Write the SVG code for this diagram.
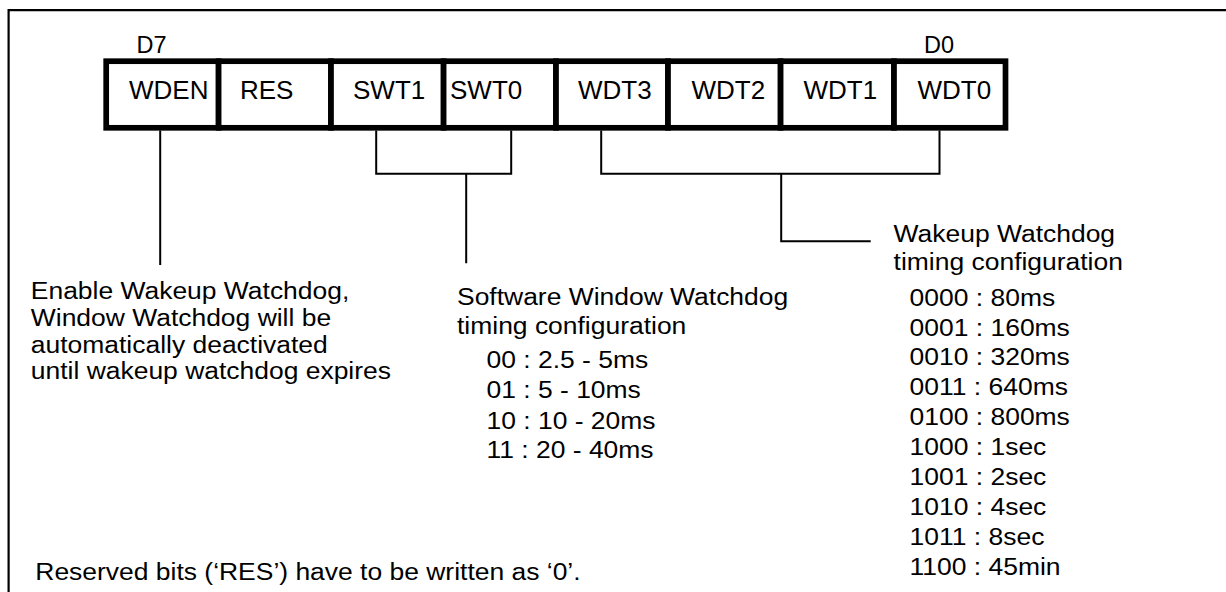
<svg xmlns="http://www.w3.org/2000/svg" width="1226" height="592" viewBox="0 0 1226 592">
<style>
  text { font-family: "Liberation Sans", Arial, Helvetica, sans-serif; fill: #000; }
  .cell { fill: #fff; stroke: #000; stroke-width: 5.7; }
  .lbl { font-size: 26px; }
  .bit { font-size: 23.5px; }
  .body { font-size: 24.5px; }
  .conn { fill: none; stroke: #000; stroke-width: 2; }
  .frame { fill: none; stroke: #000; stroke-width: 2.2; }
</style>
<rect width="1226" height="592" fill="#fff"/>
<path class="frame" d="M8.6 592 V10.2 H1226"/>

<g id="register">
  <text class="bit" x="136.5" y="53.3">D7</text>
  <text class="bit" x="924" y="53.3">D0</text>
  <g id="cell-WDEN"><rect class="cell" x="106.2" y="61.2" width="112.4" height="66.6"/><text class="lbl" x="129" y="99.3">WDEN</text></g>
  <g id="cell-RES"><rect class="cell" x="218.6" y="61.2" width="112.4" height="66.6"/><text class="lbl" x="240" y="99.3">RES</text></g>
  <g id="cell-SWT1"><rect class="cell" x="331" y="61.2" width="112.6" height="66.6"/><text class="lbl" x="353" y="99.3">SWT1</text></g>
  <g id="cell-SWT0"><rect class="cell" x="443.6" y="61.2" width="112.4" height="66.6"/><text class="lbl" x="450" y="99.3">SWT0</text></g>
  <g id="cell-WDT3"><rect class="cell" x="556" y="61.2" width="112" height="66.6"/><text class="lbl" x="578" y="99.3">WDT3</text></g>
  <g id="cell-WDT2"><rect class="cell" x="668" y="61.2" width="112.6" height="66.6"/><text class="lbl" x="691.5" y="99.3">WDT2</text></g>
  <g id="cell-WDT1"><rect class="cell" x="780.6" y="61.2" width="113.4" height="66.6"/><text class="lbl" x="803.5" y="99.3">WDT1</text></g>
  <g id="cell-WDT0"><rect class="cell" x="894" y="61.2" width="111.5" height="66.6"/><text class="lbl" x="917.5" y="99.3">WDT0</text></g>
</g>

<g id="connectors">
  <path class="conn" d="M160.2 130.5 V265"/>
  <path class="conn" d="M376.2 130.5 V173.8 H511.2 V130.5 M466.2 173.8 V263.3"/>
  <path class="conn" d="M601.2 130.5 V173.8 H939.5 V130.5 M781.2 173.8 V241.2 H870.7"/>
</g>

<g id="wden-desc">
  <text class="body" transform="translate(30.8 0) scale(1.08 1)">
    <tspan x="0" y="298.8">Enable Wakeup Watchdog,</tspan>
    <tspan x="0" y="325.7">Window Watchdog will be</tspan>
    <tspan x="0" y="352.7">automatically deactivated</tspan>
    <tspan x="0" y="379.2">until wakeup watchdog expires</tspan>
  </text>
</g>

<g id="swt-desc">
  <text class="body" transform="translate(457 0) scale(1.08 1)">
    <tspan x="0" y="305">Software Window Watchdog</tspan>
    <tspan x="0" y="334.3">timing configuration</tspan>
  </text>
  <text class="body" transform="translate(486.5 0) scale(1.08 1)">
    <tspan x="0" y="368.3">00 : 2.5 - 5ms</tspan>
    <tspan x="0" y="398.5">01 : 5 - 10ms</tspan>
    <tspan x="0" y="429">10 : 10 - 20ms</tspan>
    <tspan x="0" y="458.5">11 : 20 - 40ms</tspan>
  </text>
</g>

<g id="wdt-desc">
  <text class="body" transform="translate(893.6 0) scale(1.08 1)">
    <tspan x="0" y="241.7">Wakeup Watchdog</tspan>
    <tspan x="0" y="270">timing configuration</tspan>
  </text>
  <text class="body" transform="translate(909.6 0) scale(1.08 1)">
    <tspan x="0" y="306">0000 : 80ms</tspan>
    <tspan x="0" y="335.7">0001 : 160ms</tspan>
    <tspan x="0" y="365.5">0010 : 320ms</tspan>
    <tspan x="0" y="395.3">0011 : 640ms</tspan>
    <tspan x="0" y="425.2">0100 : 800ms</tspan>
    <tspan x="0" y="455.2">1000 : 1sec</tspan>
    <tspan x="0" y="485.5">1001 : 2sec</tspan>
    <tspan x="0" y="515.2">1010 : 4sec</tspan>
    <tspan x="0" y="545.2">1011 : 8sec</tspan>
    <tspan x="0" y="575.2">1100 : 45min</tspan>
  </text>
</g>

<g id="note">
  <text class="body" transform="translate(35.3 0) scale(1.08 1)" x="0" y="580">Reserved bits (‘RES’) have to be written as ‘0’.</text>
</g>
</svg>
